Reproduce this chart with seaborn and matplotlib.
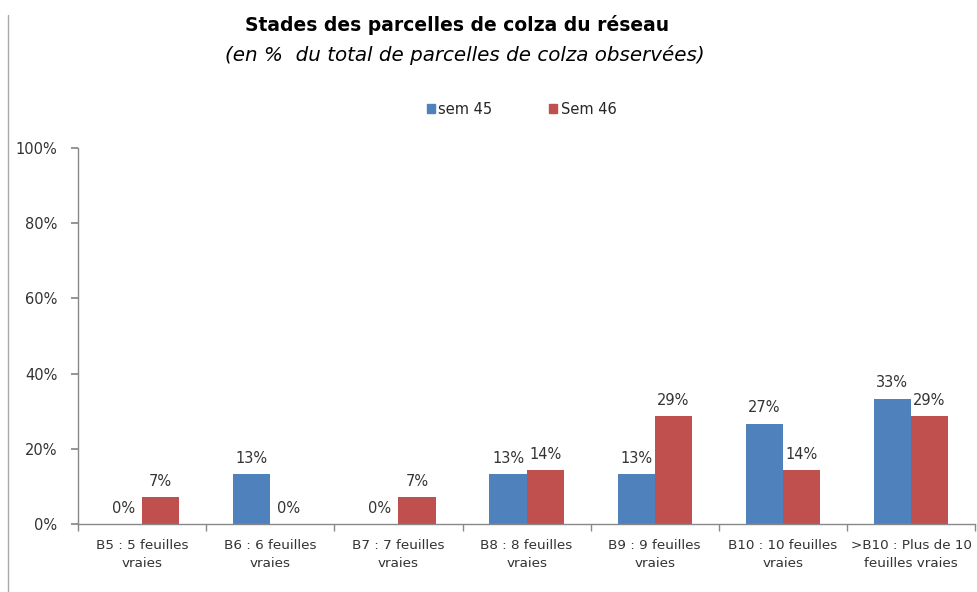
import numpy as np
import pandas as pd
import matplotlib
matplotlib.use("Agg")
import matplotlib.pyplot as plt
from matplotlib.lines import Line2D
import seaborn as sns

categories = ["B5 : 5 feuilles\nvraies", "B6 : 6 feuilles\nvraies", "B7 : 7 feuilles\nvraies",
              "B8 : 8 feuilles\nvraies", "B9 : 9 feuilles\nvraies", "B10 : 10 feuilles\nvraies",
              ">B10 : Plus de 10\nfeuilles vraies"]
sem45 = [0.0, 13.3, 0.0, 13.3, 13.3, 26.7, 33.3]
sem46 = [7.1, 0.0, 7.1, 14.3, 28.6, 14.3, 28.6]
series = ["sem 45", "Sem 46"]

df = pd.DataFrame({
    "Stade": categories * 2,
    "Pct": sem45 + sem46,
    "Semaine": [series[0]] * len(categories) + [series[1]] * len(categories),
})

sns.set_theme(style="white")
plt.rcParams["font.family"] = ["DejaVu Sans"]

fig = plt.figure(figsize=(9.77, 5.92), dpi=100)
ax = fig.add_axes([0.08, 0.115, 0.918, 0.635])

sns.barplot(data=df, x="Stade", y="Pct", hue="Semaine", order=categories,
            hue_order=series, palette=["#4F81BD", "#C0504D"], width=0.58,
            gap=0, saturation=1, legend=False, ax=ax, edgecolor="none")

for cont in ax.containers:
    ax.bar_label(cont, labels=[f"{v:.0f}%" for v in cont.datavalues],
                 padding=6, fontsize=10.5, color="#333333")

ax.set_ylim(0, 100)
ax.set_xlim(-0.5, len(categories) - 0.5)
ax.set_yticks(np.arange(0, 101, 20))
ax.set_yticklabels([f"{v}%" for v in range(0, 101, 20)], fontsize=10.5, color="#333333")
ax.set_xticks(range(len(categories)))
ax.set_xticklabels(categories, fontsize=9.7, color="#333333", linespacing=1.5)
ax.set_xticks(np.arange(-0.5, len(categories), 1), minor=True)
ax.tick_params(axis="x", which="major", length=0, pad=11)
ax.tick_params(axis="x", which="minor", length=5, color="#888888", direction="out", bottom=True)
ax.tick_params(axis="y", length=5, color="#888888", direction="out", left=True, pad=10)
ax.set_xlabel("")
ax.set_ylabel("")
for s in ["top", "right"]:
    ax.spines[s].set_visible(False)
for s in ["left", "bottom"]:
    ax.spines[s].set_color("#888888")
    ax.spines[s].set_linewidth(1)

handles = [plt.Rectangle((0, 0), 1, 1, color=c) for c in ["#4F81BD", "#C0504D"]]
fig.legend(handles, series, loc="center", bbox_to_anchor=(0.534, 0.815), ncol=2,
           frameon=False, fontsize=10.5, handlelength=0.55, handleheight=0.55,
           handletextpad=0.25, columnspacing=3.9)

fig.text(0.468, 0.958, "Stades des parcelles de colza du réseau", ha="center",
         va="center", fontsize=13.5, fontweight="bold", color="black")
fig.text(0.476, 0.907, "(en %  du total de parcelles de colza observées)", ha="center",
         va="center", fontsize=14.3, style="italic", color="black")

fig.add_artist(Line2D([0.0085, 0.0085], [0.0, 0.975], transform=fig.transFigure,
                      color="#aaaaaa", linewidth=1))

fig.savefig("out.png", dpi=100)
